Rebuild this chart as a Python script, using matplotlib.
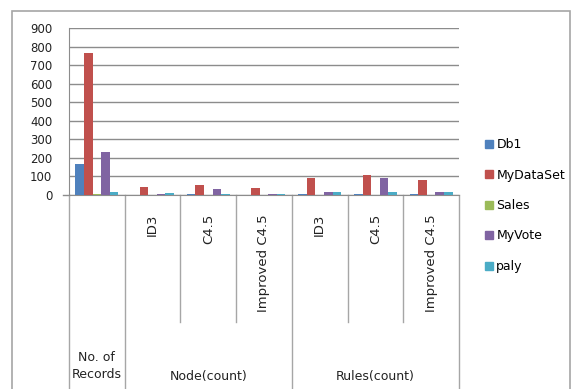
import numpy as np
import matplotlib.pyplot as plt
from matplotlib.patches import Rectangle
from matplotlib.lines import Line2D

categories = ['No. of\nRecords', 'ID3', 'C4.5', 'Improved C4.5', 'ID3', 'C4.5', 'Improved C4.5']
groups = [('Node(count)', 1, 3), ('Rules(count)', 4, 6)]
series = ['Db1', 'MyDataSet', 'Sales', 'MyVote', 'paly']
colors = ['#4F81BD', '#C0504D', '#9BBB59', '#8064A2', '#4BACC6']

db1 = [165, 2, 3, 1, 3, 3, 3]
mydataset = [765, 42, 54, 40, 89, 109, 80]
sales = [3, 2, 1, 1, 1, 1, 1]
myvote = [230, 5, 31, 4, 16, 89, 16]
paly = [14, 12, 3, 4, 16, 16, 17]
values = [db1, mydataset, sales, myvote, paly]

W, H = 571, 389
fig = plt.figure(figsize=(W / 100, H / 100), dpi=100)
plt.rcParams['font.family'] = ['DejaVu Sans']

# outer chart border (cropped at bottom)
fig.patches.append(Rectangle((12 / W, -0.1), (570 - 12) / W, 1.1 - 11 / H,
                             transform=fig.transFigure, fill=False,
                             edgecolor='#A6A6A6', linewidth=1.2))

ax = fig.add_axes([69 / W, 1 - 195 / H, (459 - 69) / W, (195 - 28) / H])
ax.set_xlim(-0.5, len(categories) - 0.5)
ax.set_ylim(0, 900)

x = np.arange(len(categories))
w = 1 / 6.5
for j, (name, vals) in enumerate(zip(series, values)):
    ax.bar(x + (j - 2) * w, vals, width=w, color=colors[j], label=name, zorder=3)

ax.set_yticks(range(0, 901, 100))
ax.yaxis.grid(True, color='#8C8C8C', linewidth=1.0, zorder=0)
ax.tick_params(axis='y', length=0, pad=12, labelsize=8.5, labelcolor='#222222')
ax.set_xticks([])
for s in ['top', 'right']:
    ax.spines[s].set_visible(False)
ax.spines['left'].set_color('#8C8C8C')
ax.spines['bottom'].set_color('#8C8C8C')

trans = ax.get_xaxis_transform()
# zero line tick to the left
ax.add_line(Line2D([-0.6, -0.5], [0, 0], transform=ax.transData, color='#8C8C8C',
                   linewidth=1.0, clip_on=False))

# category dividers
inner_bottom = -(322 - 195) / 167
full_bottom = -1.4
for b in range(len(categories) + 1):
    xb = b - 0.5
    long_line = b in (0, 1, 4, 7)
    y1 = full_bottom if long_line else inner_bottom
    ax.add_line(Line2D([xb, xb], [0, y1], transform=trans, color='#A6A6A6',
                       linewidth=1.0, clip_on=False))

# level-1 rotated labels
for i, lab in enumerate(categories):
    if i == 0:
        ax.text(i, -(366 - 195) / 167, lab, transform=trans, ha='center', va='center',
                fontsize=9, color='#222222', linespacing=1.45)
    else:
        ax.text(i, -(214 - 195) / 167, lab, transform=trans, ha='center', va='top',
                rotation=90, fontsize=9.5, color='#222222')

# level-2 group labels
for name, a, b in groups:
    ax.text((a + b) / 2, -(377 - 195) / 167, name, transform=trans, ha='center',
            va='center', fontsize=9, color='#222222')

handles = [Rectangle((0, 0), 1, 1, color=c) for c in colors]
fig.legend(handles, series, loc='upper left', bbox_to_anchor=(480 / W, 1 - 133 / H),
           frameon=False, fontsize=9, handlelength=0.6, handleheight=0.6,
           handletextpad=0.3, labelspacing=1.4, borderaxespad=0)

fig.savefig('out.png', dpi=100)
